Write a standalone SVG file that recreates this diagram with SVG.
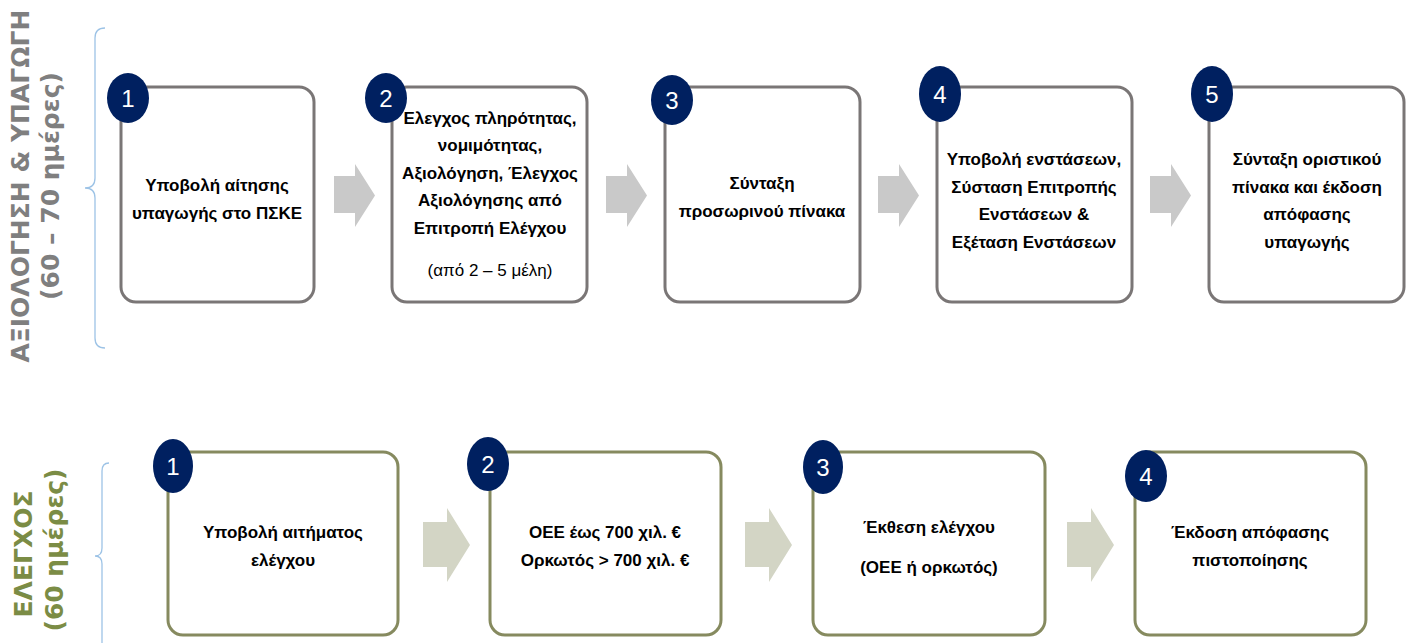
<svg xmlns="http://www.w3.org/2000/svg" width="1411" height="643" viewBox="0 0 1411 643">
<style>
.bg{fill:#ffffff}
.boxT{fill:#ffffff;stroke:#7a7676;stroke-width:3}
.boxB{fill:#ffffff;stroke:#868a5f;stroke-width:3}
.num{fill:#002060}
.numt{font-family:"Liberation Sans",Arial,sans-serif;font-size:24px;fill:#ffffff;text-anchor:middle}
.t{font-family:"Liberation Sans",Arial,sans-serif;font-size:17px;font-weight:bold;fill:#000000;text-anchor:middle}
.tn{font-family:"Liberation Sans",Arial,sans-serif;font-size:17px;fill:#000000;text-anchor:middle}
.arT{fill:#c9c9c9}
.arB{fill:#d3d5c5}
.brace{fill:none;stroke:#9dc3e6;stroke-width:1.3}
.lblT{font-family:"DejaVu Sans",sans-serif;font-size:25px;font-weight:bold;fill:#7f7f7f;text-anchor:middle}
.lblB{font-family:"DejaVu Sans",sans-serif;font-size:25px;font-weight:bold;fill:#7b8c45;text-anchor:middle}
</style>
<rect class="bg" x="0" y="0" width="1411" height="643"/>

<g id="labels">
<text class="lblT" transform="translate(29,186) rotate(-90)">ΑΞΙΟΛΟΓΗΣΗ &amp; ΥΠΑΓΩΓΗ</text>
<text class="lblT" transform="translate(59,186) rotate(-90)">(60 – 70 ημέρες)</text>
<text class="lblB" transform="translate(32,554) rotate(-90)">ΕΛΕΓΧΟΣ</text>
<text class="lblB" transform="translate(63,550) rotate(-90)">(60 ημέρες)</text>
</g>

<g id="braces">
<path class="brace" d="M105,28 Q95,28 95,38 V178 Q95,188 85,188 Q95,188 95,198 V338 Q95,348 105,348"/>
<path class="brace" d="M109,463 Q102,463 102,471 V548 Q102,556 95,556 Q102,556 102,564 V643"/>
</g>

<g id="connectors">
<path class="arT" d="M334,176 H355 V164 L375,195.5 L355,227 V213 H334 Z"/>
<path class="arT" d="M606,176 H627 V164 L647,195.5 L627,227 V213 H606 Z"/>
<path class="arT" d="M878,176 H899 V164 L919,195.5 L899,227 V213 H878 Z"/>
<path class="arT" d="M1150,176 H1171 V164 L1191,195.5 L1171,227 V213 H1150 Z"/>
<path class="arB" d="M423,522 H447 V508 L470,545 L447,582 V567 H423 Z"/>
<path class="arB" d="M745,522 H769 V508 L792,545 L769,582 V567 H745 Z"/>
<path class="arB" d="M1067,522 H1091 V508 L1114,545 L1091,582 V567 H1067 Z"/>
</g>

<g id="t1">
<rect class="boxT" x="121" y="87" width="193" height="215" rx="15"/>
<ellipse class="num" cx="128" cy="98" rx="21" ry="25"/>
<text class="numt" x="128" y="107">1</text>
<text class="t" x="217" y="191">Υποβολή αίτησης</text>
<text class="t" x="217" y="219">υπαγωγής στο ΠΣΚΕ</text>
</g>

<g id="t2">
<rect class="boxT" x="392" y="87" width="195" height="215" rx="15"/>
<ellipse class="num" cx="386" cy="98" rx="21" ry="25"/>
<text class="numt" x="386" y="107">2</text>
<text class="t" x="490" y="124">Ελεγχος πληρότητας,</text>
<text class="t" x="490" y="151">νομιμότητας,</text>
<text class="t" x="490" y="179">Αξιολόγηση, Έλεγχος</text>
<text class="t" x="490" y="206">Αξιολόγησης από</text>
<text class="t" x="490" y="234">Επιτροπή Ελέγχου</text>
<text class="tn" x="490" y="276">(από 2 – 5 μέλη)</text>
</g>

<g id="t3">
<rect class="boxT" x="665" y="87" width="195" height="215" rx="15"/>
<ellipse class="num" cx="672" cy="100" rx="21" ry="25"/>
<text class="numt" x="672" y="109">3</text>
<text class="t" x="762" y="189">Σύνταξη</text>
<text class="t" x="762" y="217">προσωρινού πίνακα</text>
</g>

<g id="t4">
<rect class="boxT" x="937" y="87" width="195" height="215" rx="15"/>
<ellipse class="num" cx="940" cy="94" rx="21" ry="28"/>
<text class="numt" x="940" y="103">4</text>
<text class="t" x="1034" y="165">Υποβολή ενστάσεων,</text>
<text class="t" x="1034" y="193">Σύσταση Επιτροπής</text>
<text class="t" x="1034" y="220">Ενστάσεων &amp;</text>
<text class="t" x="1034" y="248">Εξέταση Ενστάσεων</text>
</g>

<g id="t5">
<rect class="boxT" x="1209" y="87" width="195" height="215" rx="15"/>
<ellipse class="num" cx="1212" cy="94" rx="21" ry="28"/>
<text class="numt" x="1212" y="103">5</text>
<text class="t" x="1307" y="165">Σύνταξη οριστικού</text>
<text class="t" x="1307" y="193">πίνακα και έκδοση</text>
<text class="t" x="1307" y="220">απόφασης</text>
<text class="t" x="1307" y="248">υπαγωγής</text>
</g>

<g id="b1">
<rect class="boxB" x="168" y="452" width="230" height="183" rx="15"/>
<ellipse class="num" cx="173" cy="466" rx="20" ry="27"/>
<text class="numt" x="173" y="475">1</text>
<text class="t" x="283" y="538">Υποβολή αιτήματος</text>
<text class="t" x="283" y="566">ελέγχου</text>
</g>

<g id="b2">
<rect class="boxB" x="490" y="452" width="231" height="183" rx="15"/>
<ellipse class="num" cx="488" cy="464" rx="21" ry="27"/>
<text class="numt" x="488" y="473">2</text>
<text class="t" x="605" y="538">ΟΕΕ έως 700 χιλ. €</text>
<text class="t" x="605" y="566">Ορκωτός &gt; 700 χιλ. €</text>
</g>

<g id="b3">
<rect class="boxB" x="813" y="452" width="232" height="183" rx="15"/>
<ellipse class="num" cx="823" cy="467" rx="20" ry="27"/>
<text class="numt" x="823" y="476">3</text>
<text class="t" x="929" y="533">Έκθεση ελέγχου</text>
<text class="t" x="929" y="573">(ΟΕΕ ή ορκωτός)</text>
</g>

<g id="b4">
<rect class="boxB" x="1135" y="452" width="231" height="183" rx="15"/>
<ellipse class="num" cx="1146" cy="476" rx="21" ry="26"/>
<text class="numt" x="1146" y="485">4</text>
<text class="t" x="1250" y="538">Έκδοση απόφασης</text>
<text class="t" x="1250" y="566">πιστοποίησης</text>
</g>
</svg>
